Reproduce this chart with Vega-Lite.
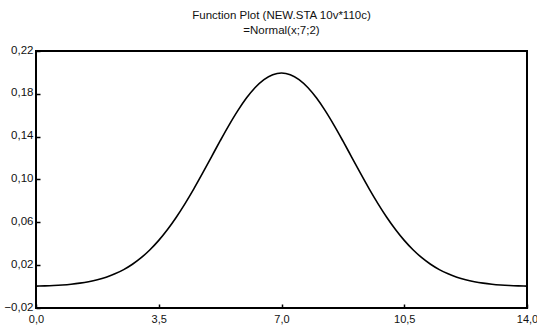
{
  "$schema": "https://vega.github.io/schema/vega-lite/v6.json",
  "autosize": {"type": "none"},
  "width": 491,
  "height": 257,
  "padding": {"left": 36, "top": 51, "right": 10, "bottom": 17},
  "background": "white",
  "view": {"stroke": "black", "strokeWidth": 2, "fill": "white"},
  "title": {
    "text": ["Function Plot (NEW.STA 10v*110c)", "=Normal(x;7;2)\u00a0\u00a0\u00a0\u00a0\u00a0\u00a0\u00a0\u00a0\u00a0\u00a0"],
    "font": "Liberation Sans",
    "fontSize": 11.5,
    "fontWeight": "normal",
    "color": "#111",
    "anchor": "middle",
    "offset": 8,
    "lineHeight": 15
  },
  "config": {
    "axis": {
      "labelFont": "Liberation Sans",
      "labelFontSize": 12,
      "labelColor": "#111",
      "domain": false,
      "grid": false,
      "ticks": true,
      "tickColor": "black",
      "tickSize": -4,
      "tickWidth": 1.5
    }
  },
  "data": {
    "values": [
      {"x": 0, "y": 0.00044}, {"x": 0.25, "y": 0.00067}, {"x": 0.5, "y": 0.00101}, {"x": 0.75, "y": 0.00151},
      {"x": 1, "y": 0.00222}, {"x": 1.25, "y": 0.0032}, {"x": 1.5, "y": 0.00455}, {"x": 1.75, "y": 0.00636},
      {"x": 2, "y": 0.00876}, {"x": 2.25, "y": 0.01189}, {"x": 2.5, "y": 0.01587}, {"x": 2.75, "y": 0.02086},
      {"x": 3, "y": 0.027}, {"x": 3.25, "y": 0.03439}, {"x": 3.5, "y": 0.04314}, {"x": 3.75, "y": 0.05327},
      {"x": 4, "y": 0.06476}, {"x": 4.25, "y": 0.07751}, {"x": 4.5, "y": 0.09132}, {"x": 4.75, "y": 0.10594},
      {"x": 5, "y": 0.12099}, {"x": 5.25, "y": 0.13603}, {"x": 5.5, "y": 0.15057}, {"x": 5.75, "y": 0.16408},
      {"x": 6, "y": 0.17603}, {"x": 6.25, "y": 0.18593}, {"x": 6.5, "y": 0.19333}, {"x": 6.75, "y": 0.19792},
      {"x": 7, "y": 0.19947},
      {"x": 7.25, "y": 0.19792}, {"x": 7.5, "y": 0.19333}, {"x": 7.75, "y": 0.18593}, {"x": 8, "y": 0.17603},
      {"x": 8.25, "y": 0.16408}, {"x": 8.5, "y": 0.15057}, {"x": 8.75, "y": 0.13603}, {"x": 9, "y": 0.12099},
      {"x": 9.25, "y": 0.10594}, {"x": 9.5, "y": 0.09132}, {"x": 9.75, "y": 0.07751}, {"x": 10, "y": 0.06476},
      {"x": 10.25, "y": 0.05327}, {"x": 10.5, "y": 0.04314}, {"x": 10.75, "y": 0.03439}, {"x": 11, "y": 0.027},
      {"x": 11.25, "y": 0.02086}, {"x": 11.5, "y": 0.01587}, {"x": 11.75, "y": 0.01189}, {"x": 12, "y": 0.00876},
      {"x": 12.25, "y": 0.00636}, {"x": 12.5, "y": 0.00455}, {"x": 12.75, "y": 0.0032}, {"x": 13, "y": 0.00222},
      {"x": 13.25, "y": 0.00151}, {"x": 13.5, "y": 0.00101}, {"x": 13.75, "y": 0.00067}, {"x": 14, "y": 0.00044}
    ]
  },
  "mark": {"type": "line", "color": "black", "strokeWidth": 1.6, "interpolate": "monotone", "clip": true},
  "encoding": {
    "x": {
      "field": "x", "type": "quantitative",
      "scale": {"domain": [0, 14], "nice": false, "zero": false},
      "axis": {
        "title": null,
        "values": [0, 3.5, 7, 10.5, 14],
        "labelExpr": "replace(format(datum.value, '.1f'), '.', ',')",
        "labelPadding": 9,
        "labelFontSize": 11,
        "labelFlush": false
      }
    },
    "y": {
      "field": "y", "type": "quantitative",
      "scale": {"domain": [-0.02, 0.22], "nice": false, "zero": false},
      "axis": {
        "title": null,
        "values": [-0.02, 0.02, 0.06, 0.1, 0.14, 0.18, 0.22],
        "labelExpr": "replace(format(datum.value, '.2f'), '.', ',')",
        "labelPadding": 7,
        "labelFontSize": 11.5,
        "labelOffset": -1,
        "labelFlush": false
      }
    }
  }
}
